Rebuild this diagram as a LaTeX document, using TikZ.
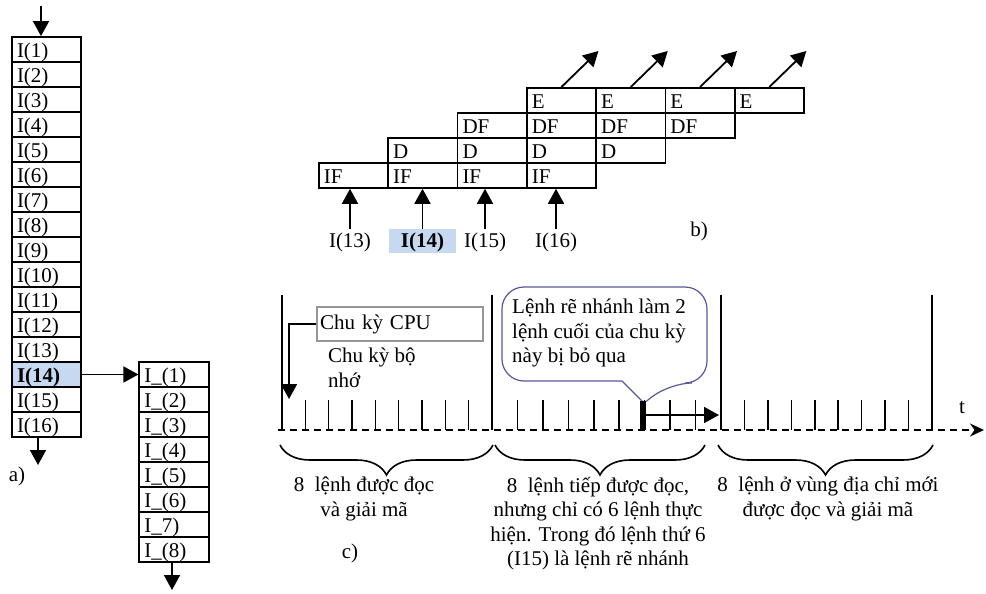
\documentclass[tikz,border=0pt]{standalone}
\usepackage{fontspec}
\setmainfont{Liberation Serif}
\usepackage{tikz}
\usetikzlibrary{arrows.meta, decorations.pathreplacing}
\definecolor{HLBlue}{RGB}{198,217,240}
\definecolor{CallBlue}{RGB}{88,88,158}
\definecolor{BoxGray}{RGB}{150,150,150}
\newcommand{\dfont}{\fontsize{21}{24.5}\selectfont}

\begin{document}
\begin{tikzpicture}[x=1pt, y=-1pt, font=\dfont,
    cell/.style={draw, line width=1.8pt, minimum width=69pt, minimum height=25pt,
                 text width=59pt, inner xsep=5pt, inner ysep=0pt,
                 text height=19pt, text depth=3pt, align=left},
    lbl/.style={minimum height=24pt, inner ysep=0pt, text height=17pt, text depth=5pt},
    lblhl/.style={lbl, fill=HLBlue, minimum width=67pt, font=\dfont\bfseries},
    txt/.style={inner sep=0pt, align=center},
    arr/.style={-{Triangle[length=15pt, width=16pt]}, line width=1.8pt},
    axis/.style={line width=1.8pt, dash pattern=on 7pt off 5pt,
                 -{Stealth[length=14pt, width=13pt]}},
    major/.style={line width=1.5pt},
    tick/.style={line width=1.5pt},
    brc/.style={decorate, decoration={brace, mirror, amplitude=30pt}, line width=1.6pt}
  ]
  \useasboundingbox (0,0) rectangle (986,594);

  % a) instruction queue
  \foreach \i in {1,...,13,15,16} {
    \node[cell] (q\i) at (46.5, {24.5+25*\i}) {I(\i)};
  }
  \node[cell, fill=HLBlue, font=\dfont\bfseries] (q14) at (46.5, 374.5) {I(14)};
  \coordinate (qin) at (41,6);
  \draw[arr] (qin) -- (qin |- q1.north);
  \coordinate (qout) at (38,465);
  \draw[arr] (qout |- q16.south) -- (qout);
  \node[anchor=base] (la) at (17,481) {a)};

  % branch target queue
  \foreach \t [count=\k] in {I\_(1), I\_(2), I\_(3), I\_(4), I\_(5), I\_(6), I\_7), I\_(8)} {
    \node[cell, minimum width=70pt, text width=60pt] (j\k) at (174.3, {349.5+25*\k}) {\t};
  }
  \draw[arr] (q14.east) -- (j1.west);
  \coordinate (jout) at (172,590);
  \draw[arr] (jout |- j8.south) -- (jout);

  % b) pipeline stages
  \foreach \s [count=\r from 0] in {IF, D, DF, E} {
    \foreach \c in {0,...,3} {
      \node[cell, anchor=north west, minimum width=69.3pt, text width=59.3pt]
        (p\r\c) at ({318+69.3*(\r+\c)}, {162-25*\r}) {\s};
    }
  }
  \foreach \n/\x/\c/\st in {13/350/0/lbl, 14/422.5/1/lblhl, 15/485/2/lbl, 16/556/3/lbl} {
    \node[\st] (in\n) at (\x,241) {I(\n)};
    \draw[arr] (in\n.north) -- (in\n.north |- p0\c.south);
  }
  \foreach \c in {0,...,3} {
    \draw[arr] (p3\c.north) -- ++(37,-36);
  }
  \node[anchor=base] (lb) at (699,236) {b)};

  % c) timing
  \draw[CallBlue, line width=1.2pt, fill=white, rounded corners=22pt]
    (622,381) -- (502,381) -- (502,287) -- (707,287) -- (707,383) -- (670,383)
    [sharp corners] -- (644,403) -- cycle;
  \node[txt, align=left, anchor=north west] (note) at (512,299)
    {Lệnh rẽ nhánh làm 2\\lệnh cuối của chu kỳ\\này bị bỏ qua};

  \coordinate (t0) at (278,430);
  \coordinate (t1) at (984,430);
  \draw[axis] (t0) -- (t1);
  \foreach \x [count=\k from 0] in {282, 492, 721, 932} {
    \coordinate (m\k) at (\x,430);
    \draw[major] (m\k) -- ++(0,-135);
  }
  \foreach \a/\b in {282/492, 492/721, 721/932} {
    \foreach \k in {1,...,8} {
      \draw[tick] ({\a+(\b-\a)*\k/9},430) -- ++(0,-30);
    }
  }
  \coordinate (brk) at (643,430);
  \draw[line width=6pt] (brk) -- ++(0,-29);
  \coordinate (jmp) at (719,415);
  \draw[arr] ([shift={(3,-15)}]brk) -- (jmp);
  \node[anchor=base] (tl) at (962,413) {t};

  \node[draw=BoxGray, line width=1.5pt, minimum width=166pt, minimum height=34pt,
        text width=160pt, inner xsep=3pt, align=left] (cpu) at (400,324) {Chu kỳ CPU};
  \coordinate (cyc) at (289,399);
  \draw[arr] (cpu.west) -| (cyc);
  \node[txt, align=left, anchor=north west] (mem) at (328,348) {Chu kỳ bộ\\nhớ};

  \draw[brc] (280,445) -- (493,445);
  \draw[brc] (495,445) -- (705,445);
  \draw[brc] (718,445) -- (933,445);
  \node[txt, anchor=north] (s1) at (364,477) {8\ \ lệnh được đọc\\và giải mã};
  \node[txt, anchor=north] (s2) at (598,477)
    {8\ \ lệnh tiếp được đọc,\\nhưng chỉ có 6 lệnh thực\\hiện. Trong đó lệnh thứ 6\\(I15) là lệnh rẽ nhánh};
  \node[txt, anchor=north] (s3) at (828,477) {8\ \ lệnh ở vùng địa chỉ mới\\được đọc và giải mã};
  \node[anchor=base] (lc) at (350,558) {c)};
\end{tikzpicture}
\end{document}
